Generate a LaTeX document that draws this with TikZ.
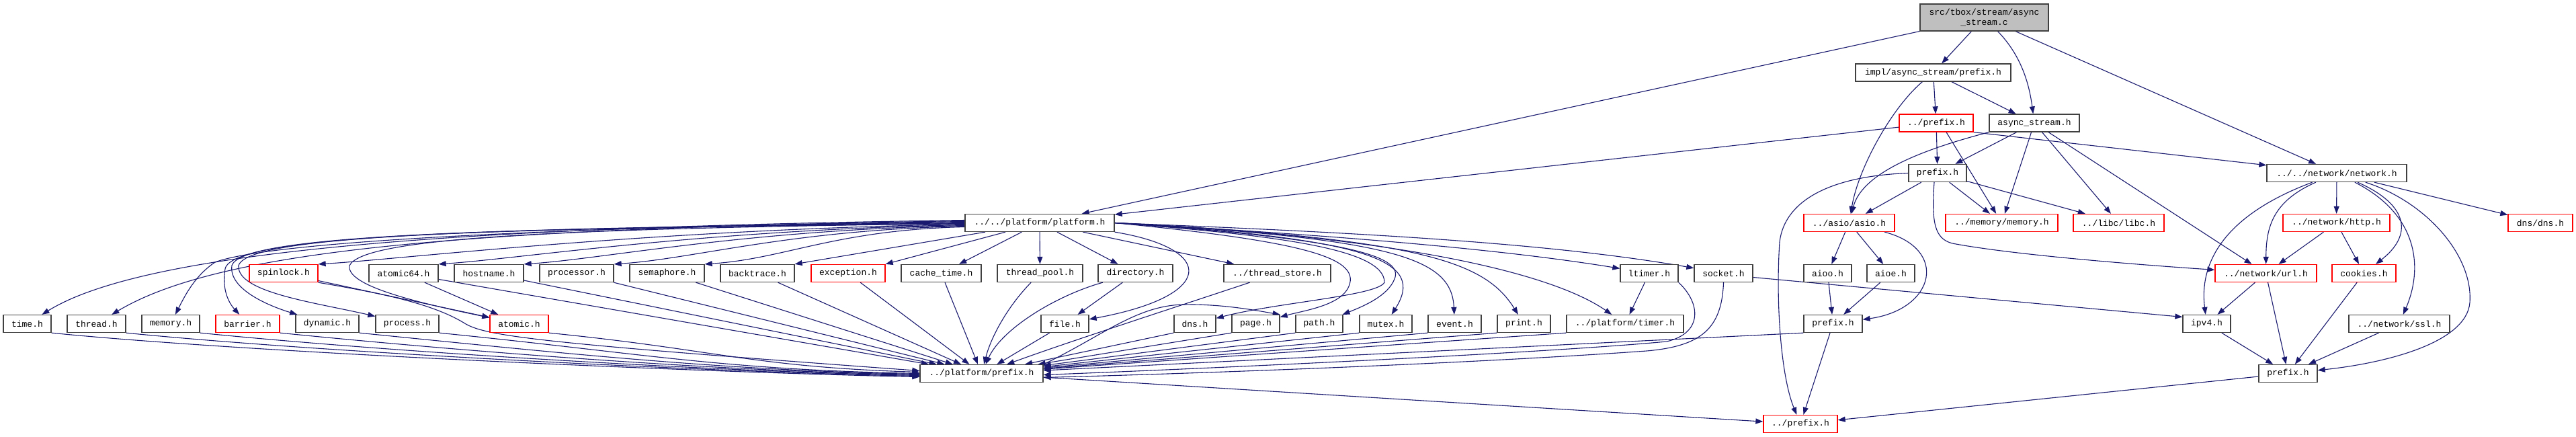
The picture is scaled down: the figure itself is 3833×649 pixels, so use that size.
\documentclass[tikz,border=0pt]{standalone}
\usepackage{fontspec}
\newfontfamily\dmono{Liberation Mono}
\usetikzlibrary{arrows.meta,backgrounds}
\definecolor{edgec}{HTML}{191970}
\definecolor{bordc}{HTML}{404040}
\definecolor{mainfill}{HTML}{BFBFBF}
\definecolor{redc}{HTML}{FF0000}
\tikzset{
  nd/.style={draw=bordc, line width=1.3pt, fill=white, minimum height=26pt, inner sep=0pt, font=\dmono\fontsize{13}{15}\selectfont},
  rd/.style={nd, draw=redc},
  mainnd/.style={nd, fill=mainfill, minimum height=40pt, align=center},
  ed/.style={draw=edgec, line width=1.1pt, -{Triangle[length=11pt,width=8pt]}}
}
\begin{document}
\begin{tikzpicture}[x=1pt,y=-1pt]
\useasboundingbox (0,0) rectangle (3833,649);
% ---------- nodes ----------
\node[mainnd, minimum width=191pt] (main) at (2952.5,26) {src/tbox/stream/async\\\_stream.c};
\node[nd, minimum width=231pt] (impl) at (2876.5,108) {impl/async\_stream/prefix.h};
\node[rd, minimum width=110pt] (sprefix) at (2881,183) {../prefix.h};
\node[nd, minimum width=134pt] (ash) at (3027,183) {async\_stream.h};
\node[nd, minimum width=86pt] (aprefix) at (2883,257.5) {prefix.h};
\node[nd, minimum width=208pt] (network) at (3477,257.5) {../../network/network.h};
% row 4
\node[nd, minimum width=222pt] (plat) at (1547,331.5) {../../platform/platform.h};
\node[rd, minimum width=135pt] (asio) at (2751.5,331.5) {../asio/asio.h};
\node[rd, minimum width=167pt] (memory) at (2978.5,331.5) {../memory/memory.h};
\node[rd, minimum width=135pt] (libc) at (3152.5,331.5) {../libc/libc.h};
\node[rd, minimum width=159pt] (http) at (3476.5,331.5) {../network/http.h};
\node[rd, minimum width=96pt] (dnsd) at (3780,331.5) {dns/dns.h};
% row 5
\node[rd, minimum width=102pt] (spinlock) at (422,406.5) {spinlock.h};
\node[nd, minimum width=103pt] (atomicsf) at (600.5,406.5) {atomic64.h};
\node[nd, minimum width=103pt] (hostname) at (727.5,406.5) {hostname.h};
\node[nd, minimum width=110pt] (processor) at (858,406.5) {processor.h};
\node[nd, minimum width=111pt] (semaphore) at (992.5,406.5) {semaphore.h};
\node[nd, minimum width=110pt] (backtrace) at (1127,406.5) {backtrace.h};
\node[rd, minimum width=110pt] (exception) at (1262,406.5) {exception.h};
\node[nd, minimum width=119pt] (cachetime) at (1400.5,406.5) {cache\_time.h};
\node[nd, minimum width=127pt] (threadpool) at (1547.5,406.5) {thread\_pool.h};
\node[nd, minimum width=111pt] (directory) at (1689.5,406.5) {directory.h};
\node[nd, minimum width=159pt] (threadstore) at (1900.5,406.5) {../thread\_store.h};
\node[nd, minimum width=86pt] (ltimer) at (2454,406.5) {ltimer.h};
\node[nd, minimum width=87pt] (socket) at (2564.5,406.5) {socket.h};
\node[nd, minimum width=71pt] (aioo) at (2719.5,406.5) {aioo.h};
\node[nd, minimum width=71pt] (aioe) at (2813.5,406.5) {aioe.h};
\node[rd, minimum width=151pt] (url) at (3371.5,406.5) {../network/url.h};
\node[rd, minimum width=95pt] (cookies) at (3517.5,406.5) {cookies.h};
% row 6
\node[nd, minimum width=71pt] (timeh) at (40.5,481.5) {time.h};
\node[nd, minimum width=87pt] (threadh) at (143.5,481.5) {thread.h};
\node[nd, minimum width=86pt] (memoryh) at (254,481.5) {memory.h};
\node[rd, minimum width=95pt] (barrier) at (368.5,481.5) {barrier.h};
\node[nd, minimum width=94pt] (dynamic) at (487,481.5) {dynamic.h};
\node[nd, minimum width=94pt] (process) at (606,481.5) {process.h};
\node[rd, minimum width=87pt] (atomic) at (772.5,481.5) {atomic.h};
\node[nd, minimum width=71pt] (file) at (1584.5,481.5) {file.h};
\node[nd, minimum width=62pt] (dnsh) at (1778,481.5) {dns.h};
\node[nd, minimum width=71pt] (page) at (1868.5,481.5) {page.h};
\node[nd, minimum width=70pt] (path) at (1963,481.5) {path.h};
\node[nd, minimum width=78pt] (mutex) at (2062,481.5) {mutex.h};
\node[nd, minimum width=79pt] (event) at (2164.5,481.5) {event.h};
\node[nd, minimum width=79pt] (print) at (2267.5,481.5) {print.h};
\node[nd, minimum width=174pt] (timer) at (2418,481.5) {../platform/timer.h};
\node[nd, minimum width=87pt] (aprefixb) at (2727.5,481.5) {prefix.h};
\node[nd, minimum width=71pt] (ipv4) at (3283.5,481.5) {ipv4.h};
\node[nd, minimum width=150pt] (ssl) at (3570,481.5) {../network/ssl.h};
% row 7, 8
\node[nd, minimum width=183pt] (pprefix) at (1460.5,555.5) {../platform/prefix.h};
\node[nd, minimum width=87pt] (nprefix) at (3404.5,555.5) {prefix.h};
\node[rd, minimum width=110pt] (rprefix) at (2679,630.5) {../prefix.h};
% ---------- edges ----------
\begin{scope}[on background layer]
\fill[white] (0,0) rectangle (3833,649);
% top part
\draw[ed] (main) -- (plat);
\draw[ed] (main) -- (impl);
\draw[ed] (main) .. controls (3010,85) and (3020,130) .. (ash);
\draw[ed] (main) -- (network);
\draw[ed] (impl) -- (sprefix);
\draw[ed] (impl) -- (ash);
\draw[ed] (impl) .. controls (2815,160) and (2765,250) .. (asio);
\draw[ed] (sprefix) -- (plat);
\draw[ed] (sprefix) -- (aprefix);
\draw[ed] ([xshift=15pt]sprefix.south) -- (memory);
\draw[ed] (sprefix.south east) -- (network);
\draw[ed] (ash.south west) .. controls (2850,225) and (2770,260) .. (asio);
\draw[ed] (ash) -- (aprefix);
\draw[ed] (ash) -- (memory);
\draw[ed] (ash) -- (libc);
\draw[ed] (ash) -- (url);
\draw[ed] (aprefix) -- (asio);
\draw[ed] (aprefix) -- (memory);
\draw[ed] (aprefix) -- (libc);
\draw[ed] ([xshift=-5pt]aprefix.south) .. controls (2874,330) and (2878,355) .. (2905,362) .. controls (3000,380) and (3200,395) .. (url);
\draw[ed] (aprefix.west) .. controls (2720,262) and (2655,300) .. (2648,360) .. controls (2642,450) and (2650,560) .. (rprefix);
% network part
\draw[ed] (network) .. controls (3310,320) and (3272,390) .. (ipv4);
\draw[ed] (network) .. controls (3380,300) and (3372,340) .. (url);
\draw[ed] (network) -- (http);
\draw[ed] (network) .. controls (3585,305) and (3590,350) .. (cookies);
\draw[ed] (network) .. controls (3600,320) and (3605,400) .. (ssl);
\draw[ed] (network) .. controls (3610,300) and (3680,380) .. (3675,450) .. controls (3670,510) and (3550,540) .. (nprefix);
\draw[ed] (network) -- (dnsd);
\draw[ed] (http) -- (url);
\draw[ed] (http) -- (cookies);
\draw[ed] (url) -- (ipv4);
\draw[ed] (url) -- (nprefix);
\draw[ed] (cookies) -- (nprefix);
\draw[ed] (ipv4) -- (nprefix);
\draw[ed] (ssl) -- (nprefix);
\draw[ed] (nprefix) -- (rprefix);
% asio part
\draw[ed] (asio) -- (aioo);
\draw[ed] (asio) -- (aioe);
\draw[ed] (asio) .. controls (2900,370) and (2880,460) .. (aprefixb);
\draw[ed] (aioo) -- (aprefixb);
\draw[ed] (aioe) -- (aprefixb);
\draw[ed] (aprefixb.south west) -- (pprefix);
\draw[ed] (aprefixb) -- (rprefix);
\draw[ed] (pprefix) -- (rprefix);
% socket / ltimer
\draw[ed] ([yshift=-6pt]socket.east) -- ([yshift=10pt]ipv4.west);
\draw[ed] (socket.south) .. controls (2562,490) and (2530,515) .. (2450,522) .. controls (2200,540) and (1800,555) .. ([yshift=-6pt]pprefix.east);
\draw[ed] (ltimer) -- (timer);
\draw[ed] (ltimer.south east) .. controls (2530,450) and (2535,495) .. (2480,508) .. controls (2300,525) and (1800,548) .. ([yshift=-2pt]pprefix.east);
% platform.h to the right
\draw[ed] (plat) -- (cachetime);
\draw[ed] (plat) -- (threadpool);
\draw[ed] (plat) -- (directory);
\draw[ed] (plat) -- (threadstore);
\draw[ed] (plat.south east) .. controls (1810,370) and (1810,440) .. (file);
\draw[ed] (plat.east) .. controls (1900,350) and (2060,370) .. (2060,420) .. controls (2050,440) and (1900,450) .. (dnsh);
\draw[ed] (plat.east) .. controls (1950,360) and (2030,385) .. (2005,430) .. controls (1990,455) and (1940,462) .. (page);
\draw[ed] (plat.east) .. controls (2000,355) and (2090,380) .. (2075,415) .. controls (2065,440) and (2030,455) .. (path);
\draw[ed] (plat.east) .. controls (2050,355) and (2120,390) .. (mutex);
\draw[ed] (plat.east) .. controls (2080,355) and (2160,385) .. (event);
\draw[ed] (plat.east) .. controls (2120,355) and (2210,390) .. (print);
\draw[ed] (plat.east) .. controls (2050,350) and (2300,400) .. (timer);
\draw[ed] (plat.east) .. controls (1900,345) and (2200,365) .. (ltimer);
\draw[ed] (plat.east) .. controls (2000,345) and (2300,360) .. (socket);
\draw[ed] (pprefix.north east) .. controls (1640,500) and (1690,455) .. (1760,453) .. controls (1820,452) and (1870,462) .. (page.north east);
% platform.h to row 5 (left)
\draw[ed] (plat) -- (exception.north east);
\draw[ed] (plat) -- (backtrace.north east);
\draw[ed] ([yshift=-6pt]plat.west) .. controls (1242,342) and (1168,385) .. (semaphore.north east);
\draw[ed] ([yshift=-5pt]plat.west) .. controls (1175,342) and (1033,385) .. (processor.north east);
\draw[ed] ([yshift=-4pt]plat.west) .. controls (1108,342) and (899,385) .. (hostname.north east);
\draw[ed] ([yshift=-3pt]plat.west) .. controls (1044,342) and (772,385) .. (atomicsf.north east);
\draw[ed] ([yshift=-2pt]plat.west) .. controls (955,342) and (593,386) .. (spinlock.north east);
% platform.h to row 6 (left)
\draw[ed] ([yshift=4pt]plat.west) .. controls (700,338) and (220,370) .. (timeh);
\draw[ed] ([yshift=3pt]plat.west) .. controls (700,340) and (330,370) .. (threadh);
\draw[ed] ([yshift=2pt]plat.west) .. controls (800,338) and (400,360) .. (320,390) .. controls (290,410) and (275,440) .. (memoryh);
\draw[ed] ([yshift=1pt]plat.west) .. controls (800,340) and (345,345) .. (335,400) .. controls (330,430) and (340,450) .. (barrier);
\draw[ed] (plat.west) .. controls (800,340) and (360,345) .. (345,395) .. controls (340,430) and (400,455) .. (dynamic);
\draw[ed] ([yshift=-1pt]plat.west) .. controls (800,340) and (370,345) .. (355,395) .. controls (352,435) and (470,450) .. (process);
\draw[ed] ([yshift=-1pt]plat.west) .. controls (800,340) and (540,355) .. (520,395) .. controls (515,425) and (620,450) .. (atomic);
% row 5 to atomic / prefix
\draw[ed] (atomicsf) -- (atomic);
\draw[ed] (spinlock) -- (atomic);
\draw[ed] (spinlock.south east) .. controls (560,435) and (640,450) .. (690,480) .. controls (720,500) and (800,510) .. ([yshift=4pt]pprefix.west);
\draw[ed] (atomicsf) -- (pprefix);
\draw[ed] (hostname) -- (pprefix);
\draw[ed] (processor) -- (pprefix);
\draw[ed] (semaphore) -- (pprefix);
\draw[ed] (backtrace) -- (pprefix);
\draw[ed] (exception) -- (pprefix);
\draw[ed] (cachetime) -- (pprefix);
\draw[ed] (threadpool) .. controls (1500,455) and (1475,500) .. (pprefix);
\draw[ed] (directory) .. controls (1570,440) and (1490,490) .. (pprefix);
\draw[ed] (directory) -- (file);
\draw[ed] (threadstore) .. controls (1740,460) and (1600,505) .. (pprefix);
% row 6 to prefix
\draw[ed] (timeh.south east) .. controls +(300,30) and +(-300,-6) .. ([yshift=-5pt]pprefix.west);
\draw[ed] (threadh.south east) .. controls +(300,30) and +(-300,-6) .. ([yshift=-4pt]pprefix.west);
\draw[ed] (memoryh.south east) .. controls +(300,30) and +(-300,-6) .. ([yshift=-3pt]pprefix.west);
\draw[ed] (barrier.south east) .. controls +(300,30) and +(-300,-6) .. ([yshift=-2pt]pprefix.west);
\draw[ed] (dynamic.south east) .. controls +(300,30) and +(-300,-6) .. ([yshift=-1pt]pprefix.west);
\draw[ed] (process.south east) .. controls +(300,30) and +(-300,-6) .. (pprefix.west);
\draw[ed] (atomic.south east) .. controls +(250,25) and +(-250,-8) .. ([yshift=2pt]pprefix.west);
\draw[ed] (file) -- (pprefix);
\draw[ed] (dnsh.south west) -- (pprefix);
\draw[ed] (page.south west) -- (pprefix);
\draw[ed] (path.south west) -- (pprefix);
\draw[ed] (mutex.south west) -- (pprefix);
\draw[ed] (event.south west) -- (pprefix);
\draw[ed] (print.south west) -- (pprefix);
\draw[ed] (timer.south west) -- (pprefix);
\end{scope}
\end{tikzpicture}
\end{document}
